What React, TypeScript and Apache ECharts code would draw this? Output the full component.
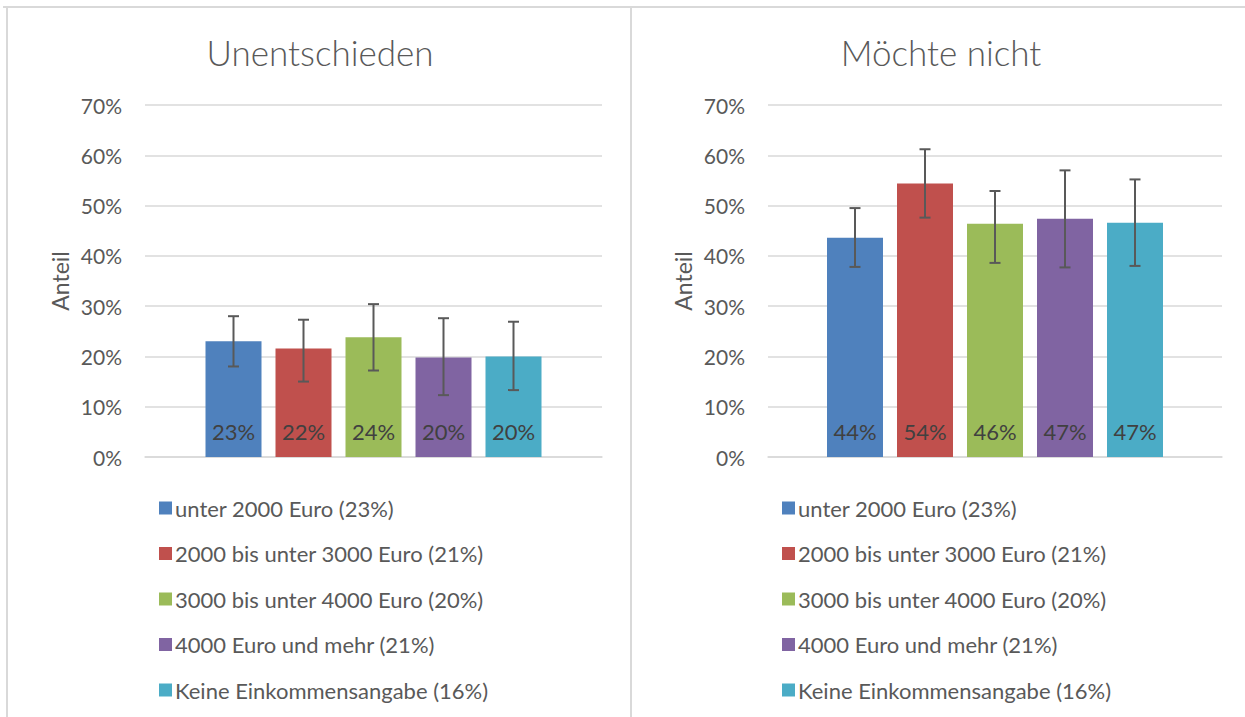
import React, { useEffect, useRef } from "react";
import * as echarts from "echarts";

const CATEGORY = ["Einkommen"];
const TITLES = ["Unentschieden", "Möchte nicht"];
const SERIES_NAMES = [
  "unter 2000 Euro (23%)",
  "2000 bis unter 3000 Euro (21%)",
  "3000 bis unter 4000 Euro (20%)",
  "4000 Euro und mehr (21%)",
  "Keine Einkommensangabe (16%)",
];
const COLORS = ["#4F81BD", "#C0504D", "#9BBB59", "#8064A2", "#4BACC6"];

const UNDECIDED_VALUES = [0.23, 0.216, 0.238, 0.198, 0.2];
const UNDECIDED_LOW = [0.18, 0.15, 0.172, 0.123, 0.133];
const UNDECIDED_HIGH = [0.28, 0.273, 0.304, 0.276, 0.269];

const NOT_VALUES = [0.436, 0.544, 0.464, 0.474, 0.466];
const NOT_LOW = [0.378, 0.476, 0.386, 0.377, 0.38];
const NOT_HIGH = [0.495, 0.612, 0.529, 0.57, 0.552];

const Y_MIN = 0;
const Y_MAX = 0.7;
const Y_STEP = 0.1;

const PANELS = [
  { values: UNDECIDED_VALUES, low: UNDECIDED_LOW, high: UNDECIDED_HIGH },
  { values: NOT_VALUES, low: NOT_LOW, high: NOT_HIGH },
];

const FONT = "Lato, 'Open Sans', sans-serif";
const BAR_W = 56;
const BAR_GAP = 14;
const PITCH = BAR_W + BAR_GAP;
const GRID_COLOR = "#d9d9d9";
const TEXT_COLOR = "#595959";

const pct = (v: number) => Math.round(v * 100) + "%";

export default function App() {
  const ref = useRef<HTMLDivElement>(null);

  useEffect(() => {
    if (!ref.current) return;
    const chart = echarts.init(ref.current, undefined, { renderer: "svg" });

    const grids = [
      { left: 145, right: 643, top: 105, bottom: 260 },
      { left: 768, right: 23, top: 105, bottom: 260 },
    ];

    const xAxis = PANELS.map((_, p) => ({
      type: "category",
      gridIndex: p,
      data: CATEGORY,
      axisLine: { show: true, lineStyle: { color: GRID_COLOR, width: 1.5 } },
      axisTick: { show: false },
      axisLabel: { show: false },
    }));

    const yAxis = PANELS.map((_, p) => ({
      type: "value",
      gridIndex: p,
      min: Y_MIN,
      max: Y_MAX,
      interval: Y_STEP,
      axisLine: { show: false },
      axisTick: { show: false },
      axisLabel: {
        formatter: (v: number) => pct(v),
        color: TEXT_COLOR,
        fontSize: 21,
        fontFamily: FONT,
        margin: 23,
      },
      splitLine: { lineStyle: { color: GRID_COLOR, width: 1.5 } },
      name: "Anteil",
      nameLocation: "middle",
      nameGap: 74,
      nameTextStyle: { color: TEXT_COLOR, fontSize: 23, fontFamily: FONT },
    }));

    const series: any[] = [];
    PANELS.forEach((panel, p) => {
      SERIES_NAMES.forEach((name, i) => {
        series.push({
          type: "bar",
          name,
          xAxisIndex: p,
          yAxisIndex: p,
          data: [panel.values[i]],
          barWidth: BAR_W,
          barGap: (BAR_GAP / BAR_W) * 100 + "%",
          itemStyle: { color: COLORS[i] },
          label: {
            show: true,
            position: "insideBottom",
            distance: 15,
            formatter: (prm: any) => pct(prm.value),
            color: "#404040",
            fontSize: 22,
            fontFamily: FONT,
          },
        });
      });
      series.push({
        type: "custom",
        xAxisIndex: p,
        yAxisIndex: p,
        silent: true,
        z: 10,
        data: panel.low.map((l, i) => [0, l, panel.high[i], i]),
        renderItem: (params: any, api: any) => {
          const lo = api.coord([api.value(0), api.value(1)]);
          const hi = api.coord([api.value(0), api.value(2)]);
          const idx = api.value(3);
          const x = lo[0] + (idx - 2) * PITCH;
          const style = { stroke: "#595959", lineWidth: 2 };
          return {
            type: "group",
            children: [
              { type: "line", shape: { x1: x, y1: hi[1], x2: x, y2: lo[1] }, style },
              { type: "line", shape: { x1: x - 5.5, y1: hi[1], x2: x + 5.5, y2: hi[1] }, style },
              { type: "line", shape: { x1: x - 5.5, y1: lo[1], x2: x + 5.5, y2: lo[1] }, style },
            ],
          };
        },
      });
    });

    const legend = [154, 777].map((left) => ({
      orient: "vertical",
      left,
      top: 492,
      data: SERIES_NAMES,
      icon: "rect",
      itemWidth: 13,
      itemHeight: 13,
      itemGap: 23.5,
      selectedMode: false,
      textStyle: { color: TEXT_COLOR, fontSize: 22, fontFamily: FONT, padding: [0, 0, 0, -2] },
    }));

    const border = { stroke: GRID_COLOR, lineWidth: 2 };
    const graphic = [
      { type: "line", shape: { x1: 3, y1: 7, x2: 1245, y2: 7 }, style: border, silent: true },
      { type: "line", shape: { x1: 7, y1: 7, x2: 7, y2: 717 }, style: border, silent: true },
      { type: "line", shape: { x1: 631, y1: 7, x2: 631, y2: 717 }, style: border, silent: true },
      {
        type: "text",
        x: 320,
        y: 52,
        style: {
          text: TITLES[0],
          fill: TEXT_COLOR,
          font: `300 35px ${FONT}`,
          textAlign: "center",
          textVerticalAlign: "middle",
        },
      },
      {
        type: "text",
        x: 941,
        y: 52,
        style: {
          text: TITLES[1],
          fill: TEXT_COLOR,
          font: `300 35px ${FONT}`,
          textAlign: "center",
          textVerticalAlign: "middle",
        },
      },
    ];

    chart.setOption({
      animation: false,
      backgroundColor: "#ffffff",
      grid: grids,
      xAxis,
      yAxis,
      legend,
      series,
      graphic,
    });

    return () => chart.dispose();
  }, []);

  return (
    <div
      ref={ref}
      style={{ position: "fixed", left: 0, top: 0, width: 1245, height: 717 }}
    />
  );
}
